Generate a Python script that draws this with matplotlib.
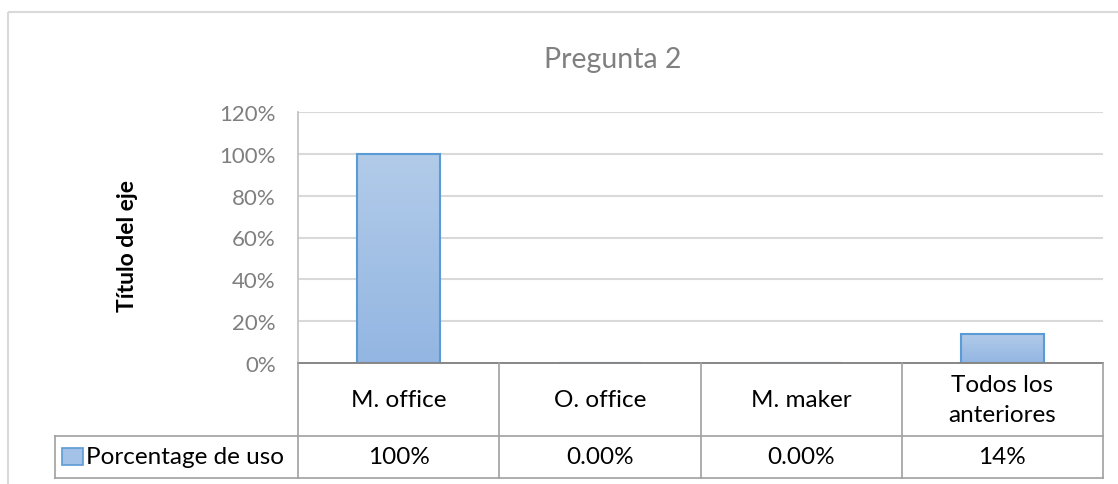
import matplotlib
matplotlib.use("Agg")
import matplotlib.pyplot as plt
import numpy as np
from matplotlib.patches import Rectangle
from matplotlib.lines import Line2D
from matplotlib.colors import LinearSegmentedColormap
import matplotlib.transforms as mtransforms

plt.rcParams['font.family'] = ['Lato', 'DejaVu Sans']

title = "Pregunta 2"
categories = ["M. office", "O. office", "M. maker", "Todos los\nanteriores"]
values = [1.00, 0.00, 0.00, 0.14]
value_labels = ["100%", "0.00%", "0.00%", "14%"]
series_name = "Porcentage de uso"
y_ticks = [0.0, 0.2, 0.4, 0.6, 0.8, 1.0, 1.2]
y_label = "Título del eje"

W, H = 1118, 485
fig = plt.figure(figsize=(W / 100, H / 100), dpi=100)

def fx(px):
    return px / W

def fy(py):
    return 1 - py / H

ax_left, ax_right, ax_top, ax_bottom = 298, 1103, 113, 364
ax = fig.add_axes([fx(ax_left), fy(ax_bottom), fx(ax_right - ax_left), (ax_bottom - ax_top) / H])

# outer chart border
fig.patches.append(Rectangle((fx(8), fy(13)), 1.2, -1.2, transform=fig.transFigure,
                             fill=False, edgecolor="#D9D9D9", linewidth=1.5))

n = len(categories)
x = np.arange(n)
ax.set_xlim(-0.5, n - 0.5)
ax.set_ylim(0, 1.2)

tick_gray = "#7F7F7F"
grid_col = "#D9D9D9"
tbl_col = "#A0A0A0"
fs = 17.5

for t in y_ticks[1:]:
    ax.axhline(t, color=grid_col, linewidth=1.5, zorder=0)

bars = ax.bar(x, values, width=0.41, facecolor="none", edgecolor="#5B9BD5", linewidth=1.5, zorder=3)
cmap = LinearSegmentedColormap.from_list("g", ["#93B6E2", "#B2CBE9"])
grad = np.linspace(0, 1, 256).reshape(-1, 1)
for b in bars:
    if b.get_height() <= 0:
        continue
    x0, y0 = b.get_x(), b.get_y()
    im = ax.imshow(grad, cmap=cmap, aspect="auto", origin="lower",
                   extent=[x0, x0 + b.get_width(), y0, y0 + b.get_height()], zorder=2)
    im.set_clip_path(b)
ax.set_xlim(-0.5, n - 0.5)
ax.set_ylim(0, 1.2)

for s in ["top", "right", "bottom"]:
    ax.spines[s].set_visible(False)
ax.spines["left"].set_color("#BFBFBF")
ax.spines["left"].set_linewidth(1.2)
ax.set_xticks([])
ax.set_yticks(y_ticks)
ax.set_yticklabels([f"{int(round(t*100))}%" for t in y_ticks], color=tick_gray, fontsize=16)
ax.tick_params(axis="y", length=0, pad=16)

fig.text(fx(613), fy(60), title, color="#808080", fontsize=20.5, ha="center", va="center")
fig.text(fx(127), fy(246), y_label, rotation=90, fontsize=16.5, fontweight="bold",
         ha="center", va="center")

# data table below the axes (blended: x in data, y in axes fraction)
trans = mtransforms.blended_transform_factory(ax.transData, ax.transAxes)
axh = ax_bottom - ax_top
row1 = -(437 - ax_bottom) / axh
row2 = -(479 - ax_bottom) / axh
leg_left = -0.5 - (ax_left - 55) / ((ax_right - ax_left) / n)

def line(xs, ys, color=tbl_col, lw=1.2):
    ax.add_line(Line2D(xs, ys, transform=trans, color=color, linewidth=lw, clip_on=False, zorder=5))

line([-0.5, n - 0.5], [0, 0], color="#868686", lw=1.4)
line([-0.5, -0.5], [0, row2])
for i in range(n):
    line([i + 0.5, i + 0.5], [0, row2])
line([leg_left, n - 0.5], [row1, row1])
line([leg_left, n - 0.5], [row2, row2])
line([leg_left, leg_left], [row1, row2])

for i, (c, v) in enumerate(zip(categories, value_labels)):
    ax.text(i, row1 / 2, c, transform=trans, ha="center", va="center", fontsize=fs,
            linespacing=1.5, clip_on=False)
    ax.text(i, (row1 + row2) / 2, v, transform=trans, ha="center", va="center", fontsize=fs,
            clip_on=False)

# legend key + series name
fig.patches.append(Rectangle((fx(62), fy(466)), fx(21), (466 - 449) / H, transform=fig.transFigure,
                             facecolor="#A4C2E8", edgecolor="#5B9BD5", linewidth=1.2))
fig.text(fx(86), fy(458), series_name, fontsize=fs, ha="left", va="center")

fig.savefig("out.png", dpi=100)
